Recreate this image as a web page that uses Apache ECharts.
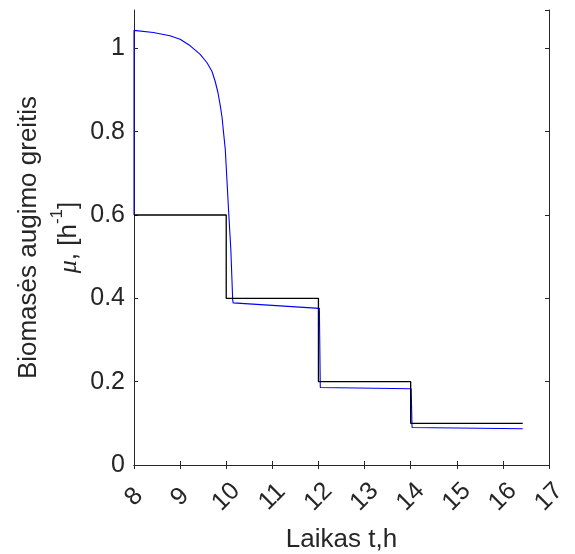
<!DOCTYPE html>
<html>
<head>
<meta charset="utf-8">
<script src="https://cdn.jsdelivr.net/npm/echarts@6/dist/echarts.min.js"></script>
<style>
html,body{margin:0;padding:0;background:#fff;}
#chart{width:575px;height:554px;}
</style>
</head>
<body>
<div id="chart"></div>
<script>
// Simulated growth rate (blue)
const blueT = [8, 8, 8.42, 8.78, 9.0, 9.22, 9.43, 9.58, 9.69, 9.76, 9.82, 9.87, 9.91, 9.94, 9.98, 10.05, 10.1, 10.14, 10.15, 12.02, 12.04, 14.01, 14.03, 16.43];
const blueMu = [0.6, 1.043, 1.038, 1.030, 1.022, 1.006, 0.986, 0.966, 0.945, 0.921, 0.894, 0.863, 0.834, 0.80, 0.757, 0.613, 0.517, 0.397, 0.389, 0.376, 0.186, 0.183, 0.090, 0.087];
// Set-point growth rate (black)
const blackT = [8, 10, 10, 12, 12, 14, 14, 16.43];
const blackMu = [0.6, 0.6, 0.4, 0.4, 0.2, 0.2, 0.1, 0.1];
// Axis ticks
const xTicks = [8, 9, 10, 11, 12, 13, 14, 15, 16, 17];
const yTicks = [0, 0.2, 0.4, 0.6, 0.8, 1];

const axisColor = '#262626';
const font = 'Liberation Sans, Arial, Helvetica, sans-serif';

const chart = echarts.init(document.getElementById('chart'), null, {renderer: 'canvas'});
const pair = (xs, ys) => xs.map((x, i) => [x, ys[i]]);

const option = {
  backgroundColor: '#fff',
  animation: false,
  grid: {left: 134, right: 26, top: 10, bottom: 89, containLabel: false, outerBoundsMode: 'none'},
  xAxis: [{
    type: 'value', min: xTicks[0], max: xTicks[xTicks.length - 1], interval: 1,
    position: 'bottom',
    axisLine: {show: true, lineStyle: {color: axisColor, width: 1}},
    axisTick: {show: true, inside: true, length: 4, lineStyle: {color: axisColor}},
    splitLine: {show: false},
    axisLabel: {
      rotate: 45, align: 'center', verticalAlign: 'middle', margin: 32,
      fontSize: 25, fontFamily: font, color: axisColor
    },
    name: 'Laikas t,h', nameLocation: 'middle', nameGap: 62,
    nameTextStyle: {fontSize: 26, fontFamily: font, color: axisColor}
  }, {
    type: 'value', min: xTicks[0], max: xTicks[xTicks.length - 1], interval: 1,
    position: 'top',
    axisLine: {show: true, lineStyle: {color: axisColor, width: 1}},
    axisTick: {show: true, inside: true, length: 4, lineStyle: {color: axisColor}},
    splitLine: {show: false},
    axisLabel: {show: false}
  }],
  yAxis: [{
    type: 'value', min: 0, max: 1.092, interval: 0.2,
    position: 'left',
    axisLine: {show: true, lineStyle: {color: axisColor, width: 1}},
    axisTick: {show: true, inside: true, length: 4, lineStyle: {color: axisColor}},
    splitLine: {show: false},
    axisLabel: {
      margin: 9, fontSize: 25, fontFamily: font, color: axisColor,
      showMaxLabel: false,
      formatter: v => (yTicks.some(t => Math.abs(t - v) < 1e-9) ? String(Math.round(v * 10) / 10) : '')
    },
    name: 'Biomasės augimo greitis\n{mu|μ}, [h{sup|-1}]',
    nameLocation: 'middle', nameGap: 45, nameMoveOverlap: false,
    nameTextStyle: {
      fontSize: 26, fontFamily: font, color: axisColor, lineHeight: 40,
      rich: {
        mu: {fontSize: 26, fontStyle: 'italic', fontFamily: 'Liberation Serif, serif', color: axisColor, lineHeight: 40},
        sup: {fontSize: 17, fontFamily: font, color: axisColor, verticalAlign: 'top', lineHeight: 28}
      }
    }
  }, {
    type: 'value', min: 0, max: 1.092, interval: 0.2,
    position: 'right',
    axisLine: {show: true, lineStyle: {color: axisColor, width: 1}},
    axisTick: {show: true, inside: true, length: 4, lineStyle: {color: axisColor}},
    splitLine: {show: false},
    axisLabel: {show: false}
  }],
  series: [{
    type: 'line', name: 'mu', data: pair(blueT, blueMu),
    showSymbol: false, symbol: 'none', smooth: false,
    lineStyle: {color: '#0000ff', width: 1.1}, z: 2
  }, {
    type: 'line', name: 'mu_set', data: pair(blackT, blackMu),
    showSymbol: false, symbol: 'none',
    lineStyle: {color: '#000000', width: 1.3}, z: 3
  }]
};
chart.setOption(option);
</script>
</body>
</html>
